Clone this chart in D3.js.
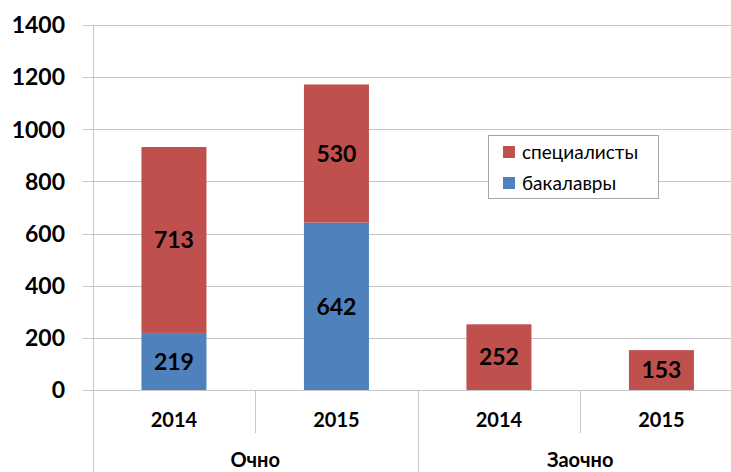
<!DOCTYPE html>
<html><head><meta charset="utf-8">
<script src="https://cdn.jsdelivr.net/npm/d3@7"></script>
<style>body{margin:0;background:#fff}svg{display:block}text{font-family:Lato,"Open Sans",sans-serif}</style>
</head><body>
<svg id="c" width="731" height="472"></svg>
<script>
const years = ["2014","2015","2014","2015"];
const groups = ["Очно","Заочно"];
const bakalavry = [219,642,0,0];
const specialisty = [713,530,252,153];
const yTicks = [0,200,400,600,800,1000,1200,1400];
const seriesNames = ["специалисты","бакалавры"];
const colors = {bak:"#4F81BD", spec:"#C0504D"};

const svg = d3.select("#c");
const x0 = 92.7, x1 = 742.7;
const y = d3.scaleLinear().domain([0,1400]).range([390,25]);
const x = d3.scaleBand().domain(d3.range(4)).range([x0,x1]).paddingInner(0.6).paddingOuter(0.3);
const step = x.step();

// gridlines
svg.append("g").selectAll("line").data(yTicks).join("line")
  .attr("x1",83).attr("x2",731).attr("y1",d=>Math.round(y(d))+0.5).attr("y2",d=>Math.round(y(d))+0.5)
  .attr("stroke","#c6c6c6").attr("stroke-width",1);
// y axis line
svg.append("line").attr("x1",Math.round(x0)+0.5).attr("x2",Math.round(x0)+0.5).attr("y1",25).attr("y2",472).attr("stroke","#c6c6c6");
// y labels
svg.append("g").selectAll("text").data(yTicks).join("text")
  .attr("x",65).attr("y",d=>y(d)).attr("dy","0.36em").attr("text-anchor","end")
  .attr("font-size",23).attr("font-weight","bold").attr("fill","#000").text(d=>d);

// category separators
const seps = d3.range(1,4);
svg.append("g").selectAll("line").data(seps).join("line")
  .attr("x1",i=>Math.round(x0+i*step)+0.5).attr("x2",i=>Math.round(x0+i*step)+0.5)
  .attr("y1",390).attr("y2",i=>i%2===0?472:433).attr("stroke","#c6c6c6");

// bars
const g = svg.append("g");
g.selectAll("rect.b").data(bakalavry).join("rect").attr("class","b")
  .attr("x",(d,i)=>x(i)).attr("width",x.bandwidth())
  .attr("y",d=>y(d)).attr("height",d=>y(0)-y(d)).attr("fill",colors.bak);
g.selectAll("rect.s").data(specialisty).join("rect").attr("class","s")
  .attr("x",(d,i)=>x(i)).attr("width",x.bandwidth())
  .attr("y",(d,i)=>y(d+bakalavry[i])).attr("height",(d,i)=>y(bakalavry[i])-y(d+bakalavry[i])).attr("fill",colors.spec);

// value labels
const lab = svg.append("g").attr("font-size",23).attr("font-weight","bold").attr("text-anchor","middle").attr("fill","#000");
bakalavry.forEach((v,i)=>{ if(v>0) lab.append("text").attr("x",x(i)+x.bandwidth()/2).attr("y",(y(0)+y(v))/2).attr("dy","0.36em").text(v); });
specialisty.forEach((v,i)=>{ const b=bakalavry[i]; lab.append("text").attr("x",x(i)+x.bandwidth()/2).attr("y",(y(b)+y(b+v))/2).attr("dy","0.36em").text(v); });

// year labels
svg.append("g").selectAll("text").data(years).join("text")
  .attr("x",(d,i)=>x(i)+x.bandwidth()/2).attr("y",420).attr("dy","0.36em").attr("text-anchor","middle")
  .attr("font-size",20).attr("font-weight","bold").text(d=>d);
// group labels
svg.append("g").selectAll("text").data(groups).join("text")
  .attr("x",(d,i)=>x0+(i*2+1)*step).attr("y",460).attr("dy","0.36em").attr("text-anchor","middle")
  .attr("font-size",20).attr("font-weight","bold").text(d=>d);

// legend
const lg = svg.append("g");
lg.append("rect").attr("x",488.5).attr("y",135.5).attr("width",170).attr("height",63).attr("fill","#fff").attr("stroke","#a6a6a6");
const lItems = [{n:seriesNames[0],c:colors.spec,y:152},{n:seriesNames[1],c:colors.bak,y:183}];
lItems.forEach(it=>{
  lg.append("rect").attr("x",503).attr("y",it.y-6).attr("width",12).attr("height",12).attr("fill",it.c);
  lg.append("text").attr("x",522).attr("y",it.y).attr("dy","0.36em").attr("font-size",19).attr("fill","#000").text(it.n);
});
</script>
</body></html>
